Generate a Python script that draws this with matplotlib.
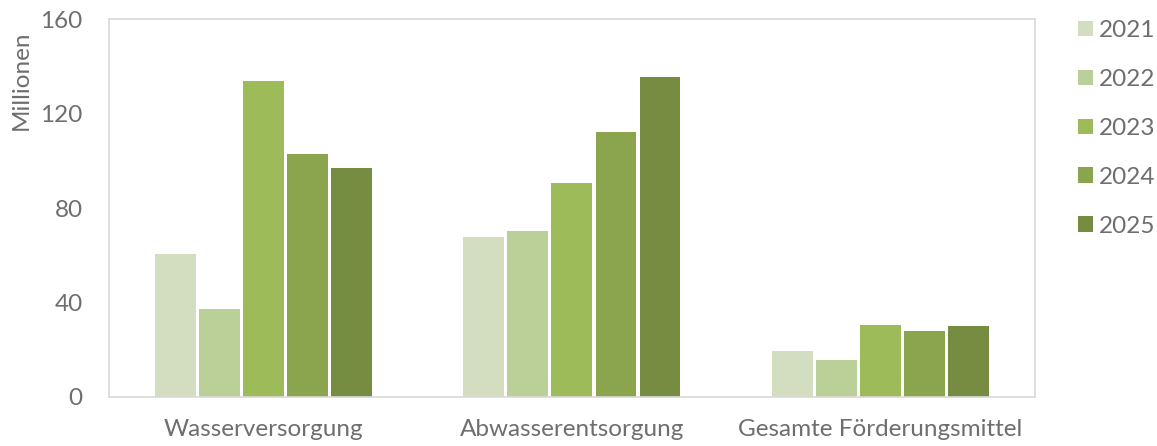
import numpy as np
import matplotlib
matplotlib.use("Agg")
import matplotlib.pyplot as plt

categories = ["Wasserversorgung", "Abwasserentsorgung", "Gesamte Förderungsmittel"]
years = ["2021", "2022", "2023", "2024", "2025"]
values = {
    "2021": [60.6, 67.7, 19.6],
    "2022": [37.4, 70.2, 15.7],
    "2023": [133.8, 90.8, 30.5],
    "2024": [103.0, 112.5, 28.1],
    "2025": [97.2, 135.8, 30.2],
}
colors = ["#D2DEBF", "#BBCF98", "#9DBB59", "#8AA54E", "#758C41"]
yticks = [0, 40, 80, 120, 160]

plt.rcParams['font.family'] = ['Lato', 'DejaVu Sans']
grey = "#6e6e6e"
fs = 17.5

fig = plt.figure(figsize=(11.57, 4.46), dpi=100)
ax = fig.add_axes([0.0942, 0.1099, 0.8003, 0.8464])

x = np.arange(len(categories))
slot = 0.1426
for i, yr in enumerate(years):
    ax.bar(x + (i - 2) * slot, values[yr], width=slot * 0.93, color=colors[i], label=yr)

ax.set_xlim(-0.5, 2.5)
ax.set_ylim(0, 160)
ax.set_yticks(yticks)
ax.set_xticks(x)
ax.set_xticklabels(categories)
ax.tick_params(axis='both', length=0, colors=grey, labelsize=fs)
ax.tick_params(axis='x', pad=16)
ax.tick_params(axis='y', pad=19)
for s in ax.spines.values():
    s.set_color("#d9d9d9")
    s.set_linewidth(1.2)

fig.text(0.018, 0.82, "Millionen", rotation=90, ha='center', va='center',
         color=grey, fontsize=fs)

leg = fig.legend(loc='upper left', bbox_to_anchor=(0.9317, 0.955), frameon=False,
                 fontsize=fs, handlelength=0.62, handleheight=0.62,
                 labelspacing=1.15, handletextpad=0.25, borderaxespad=0, borderpad=0)
for t in leg.get_texts():
    t.set_color(grey)

fig.savefig("out.png", dpi=100)
